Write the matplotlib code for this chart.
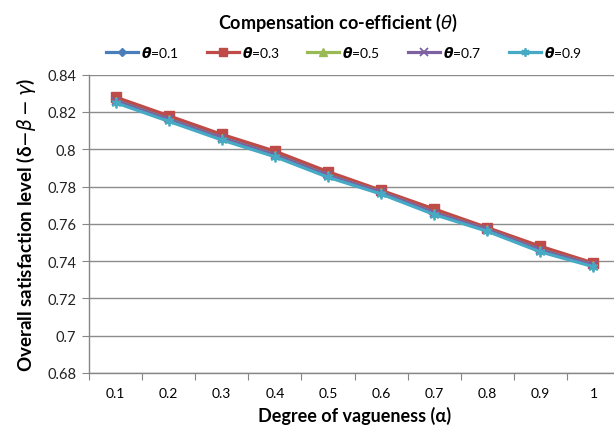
import numpy as np
import matplotlib
matplotlib.use("Agg")
import matplotlib.pyplot as plt

plt.rcParams['font.family'] = ['Lato', 'DejaVu Sans']
plt.rcParams['mathtext.fontset'] = 'custom'
plt.rcParams['mathtext.rm'] = 'DejaVu Sans'
plt.rcParams['mathtext.it'] = 'DejaVu Sans:italic'
plt.rcParams['mathtext.bf'] = 'DejaVu Sans:italic:bold'

# degree of vagueness (alpha) categories
alpha = ['0.1', '0.2', '0.3', '0.4', '0.5', '0.6', '0.7', '0.8', '0.9', '1']

# overall satisfaction level per compensation co-efficient (theta)
theta_01 = [0.827, 0.817, 0.807, 0.798, 0.787, 0.777, 0.767, 0.757, 0.747, 0.738]
theta_03 = [0.828, 0.818, 0.808, 0.799, 0.788, 0.778, 0.768, 0.758, 0.748, 0.739]
theta_05 = [0.826, 0.816, 0.806, 0.797, 0.786, 0.777, 0.766, 0.757, 0.746, 0.738]
theta_07 = [0.826, 0.816, 0.806, 0.797, 0.786, 0.777, 0.766, 0.757, 0.746, 0.738]
theta_09 = [0.825, 0.815, 0.805, 0.796, 0.785, 0.776, 0.765, 0.756, 0.745, 0.737]

labels = ['0.1', '0.3', '0.5', '0.7', '0.9']
series = [theta_01, theta_03, theta_05, theta_07, theta_09]
colors = ['#4A7EBB', '#BE4B48', '#98B954', '#7D60A0', '#46AAC5']
markers = ['D', 's', '^', 'x', (6, 2, 0)]
msizes = [5, 7, 6, 6, 7]

fig = plt.figure(figsize=(6.14, 4.31), dpi=100)
W, H = 614, 431
left, right, top, bottom = 89, 620, 75.7, 374
ax = fig.add_axes([left / W, 1 - bottom / H, (right - left) / W, (bottom - top) / H])

x = np.arange(len(alpha))
for ys, lab, c, m, ms in zip(series, labels, colors, markers, msizes):
    ax.plot(x, ys, color=c, lw=2.3, marker=m, ms=ms,
            mew=1.3 if m in ('x', (6, 2, 0)) else 1,
            mec=c, mfc=c, label=r'$\mathbf{\theta}$=' + lab)

ax.set_xlim(-0.5, 9.5)
ax.set_ylim(0.68, 0.84)
ax.set_yticks(np.arange(0.68, 0.8401, 0.02))
ax.set_yticklabels(['0.68', '0.7', '0.72', '0.74', '0.76', '0.78', '0.8', '0.82', '0.84'])
ax.set_xticks(np.arange(-0.5, 9.5, 1.0))
ax.set_xticklabels([])
ax.set_xticks(x, minor=True)
ax.set_xticklabels(alpha, minor=True)
ax.tick_params(axis='x', which='minor', length=0, pad=10)
ax.tick_params(axis='x', which='major', length=5, color='#868686', direction='out')
ax.tick_params(axis='y', length=5, color='#868686', direction='out', pad=4)
ax.tick_params(labelsize=10.5, labelcolor='#222222')
ax.yaxis.grid(True, color='#8C8C8C', lw=1)
ax.set_axisbelow(True)
for s in ['top', 'right']:
    ax.spines[s].set_visible(False)
for s in ['left', 'bottom']:
    ax.spines[s].set_color('#868686')
    ax.spines[s].set_linewidth(1)

ax.set_xlabel('Degree of vagueness (α)', fontsize=13, fontweight='bold', labelpad=5)
ax.set_ylabel('Overall satisfaction level (δ' + r'$-\beta-\gamma$' + ')', fontsize=13.5,
              fontweight='bold', labelpad=7)

fig.text(338 / W, 1 - 23 / H, 'Compensation co-efficient (' + r'$\theta$' + ')',
         ha='center', va='center', fontsize=13, fontweight='bold')

handles, labs = ax.get_legend_handles_labels()
fig.legend(handles, labs, loc='center', bbox_to_anchor=(344 / W, 1 - 52 / H), ncol=5,
           frameon=False, fontsize=10, handlelength=2.3, handletextpad=0.2,
           columnspacing=2.0, markerscale=0.85)

fig.savefig('out.png', dpi=100)
